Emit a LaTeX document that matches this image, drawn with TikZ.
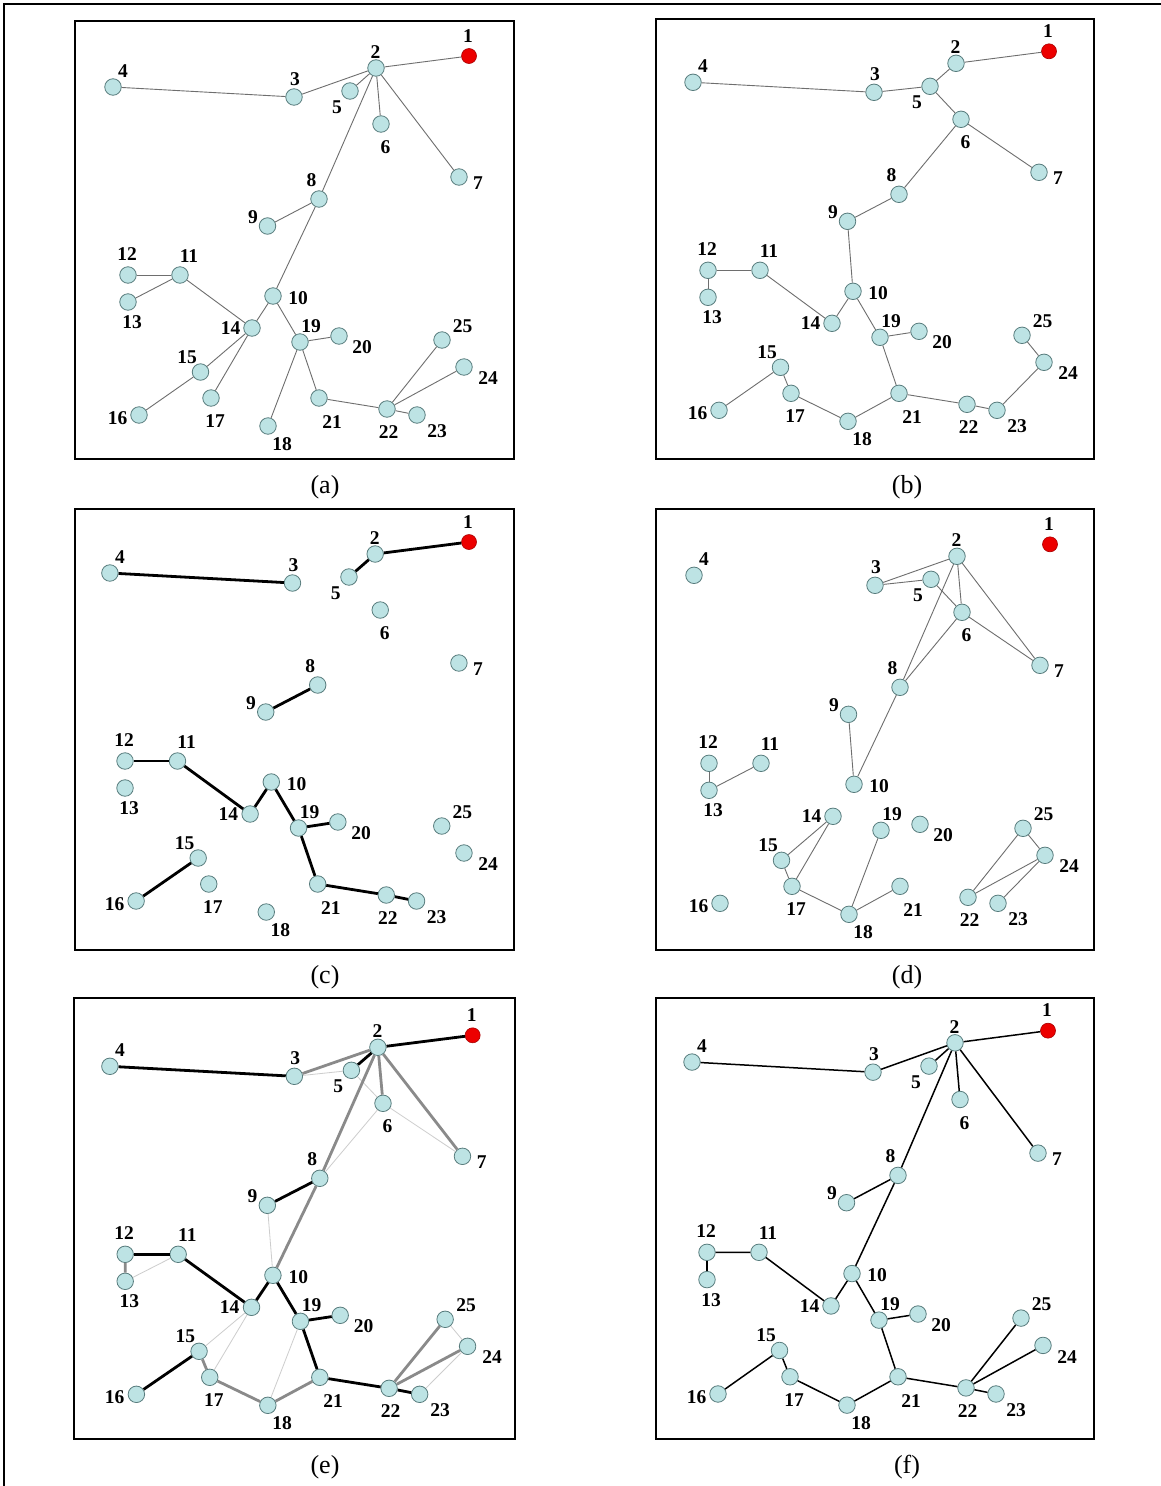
\documentclass[tikz,border=0pt]{standalone}
\usepackage{fontspec}
\setmainfont{Liberation Serif}
\definecolor{nodefill}{RGB}{189,227,228}
\definecolor{nodeline}{RGB}{88,124,125}
\definecolor{rootfill}{RGB}{236,0,0}
\definecolor{rootline}{RGB}{170,0,0}
\definecolor{greyedge}{RGB}{110,110,110}
\definecolor{midedge}{RGB}{138,138,138}
\definecolor{lightedge}{RGB}{205,205,205}
\tikzset{
  vnode/.style={circle, fill=nodefill, draw=nodeline, line width=0.8pt, minimum size=16.5pt, inner sep=0pt},
  rnode/.style={circle, fill=rootfill, draw=rootline, line width=0.6pt, minimum size=15pt, inner sep=0pt},
  vlabel/.style={font=\fontsize{19.5}{19.5}\selectfont\bfseries, inner sep=0pt},
  caption/.style={font=\fontsize{26}{26}\selectfont, inner sep=0pt},
  panelbox/.style={draw=black, line width=2pt},
  edgethin/.style={draw=greyedge, line width=0.9pt},
  edgebold/.style={draw=black, line width=2.8pt},
  edgemid/.style={draw=midedge, line width=2.8pt},
  edgelight/.style={draw=lightedge, line width=0.8pt},
  edgetree/.style={draw=black, line width=1.5pt},
}
\newcommand\drawgraph[1]{%
  \node[rnode] (#1-1) at (469,56) {};
  \node[vlabel] (#1-l1) at (468,36) {1};
  \foreach \i/\x/\y/\lx/\ly in {
    2/376/68/375.5/52, 3/294/97/295/79, 4/113/87/123/71, 5/350/91/337/107,
    6/381/124/385.5/147, 7/459/177/478/183, 8/319/199/311.5/180, 9/267.5/226/253/217,
    10/273/296/298/298, 11/180/275/189/256, 12/128/275/127/254, 13/128/302/132/322,
    14/252/328/230.5/328, 15/200.5/372/187/357, 16/139/415/117.6/418, 17/211/398/215/421,
    18/268/426/282/444, 19/300/342/311/326, 20/339/336/362/347, 21/319/398/332/422,
    22/387/409/388.5/432, 23/417/415/437/431, 24/464/367/488/378, 25/442/340/462.5/326}
  {
    \node[vnode] (#1-\i) at (\x,\y) {};
    \node[vlabel] (#1-l\i) at (\lx,\ly) {\i};
  }%
}
\begin{document}
\begin{tikzpicture}[x=1pt,y=-1pt]
\fill[white] (0,0) rectangle (1161,1486);
\useasboundingbox (0,0) rectangle (1161,1486);
% outer rules
\draw[line width=1.5pt] (4,1486) -- (4,4) -- (1161,4);
% panel frames
\draw[panelbox] (75,21) rectangle (514,459);
\draw[panelbox] (656,19) rectangle (1094,459);
\draw[panelbox] (75,509) rectangle (514,950);
\draw[panelbox] (656,509) rectangle (1094,950);
\draw[panelbox] (74,998) rectangle (515,1439);
\draw[panelbox] (656,998) rectangle (1094,1439);
% captions
\node[caption] (capa) at (325,487) {(a)};
\node[caption] (capb) at (907,487) {(b)};
\node[caption] (capc) at (325,977) {(c)};
\node[caption] (capd) at (907,977) {(d)};
\node[caption] (cape) at (325,1467) {(e)};
\node[caption] (capf) at (907,1467) {(f)};
% (a)
\begin{scope}
  \drawgraph{a}
  \foreach \u/\v in {1/2,2/3,3/4,2/5,2/6,2/7,2/8,8/9,8/10,10/14,10/19,11/12,11/13,11/14,14/15,14/17,15/16,19/18,19/20,19/21,21/22,22/23,22/24,22/25}
    \draw[edgethin] (a-\u) -- (a-\v);
\end{scope}
% (b)
\begin{scope}[shift={(580,-4.7)}]
  \drawgraph{b}
  \foreach \u/\v in {1/2,2/5,5/3,3/4,5/6,6/7,6/8,8/9,9/10,10/14,14/11,11/12,12/13,10/19,19/20,19/21,21/18,18/17,17/15,15/16,21/22,22/23,23/24,24/25}
    \draw[edgethin] (b-\u) -- (b-\v);
\end{scope}
% (c)
\begin{scope}[shift={(-4.08,486)}, xscale=1.0087]
  \drawgraph{c}
  \foreach \u/\v in {1/2,2/5,3/4,8/9,11/12,11/14,14/10,10/19,19/20,19/21,21/22,22/23,15/16}
    \draw[edgebold] (c-\u) -- (c-\v);
\end{scope}
% (d)
\begin{scope}[shift={(581,488.3)}]
  \drawgraph{d}
  \foreach \u/\v in {2/3,3/5,2/6,5/6,2/7,6/7,2/8,6/8,8/10,9/10,12/13,13/11,14/15,14/17,15/17,17/18,18/19,18/21,22/25,22/24,24/25,23/24}
    \draw[edgethin] (d-\u) -- (d-\v);
\end{scope}
% (e)
\begin{scope}[shift={(-5.25,979.3)}, xscale=1.019]
  \drawgraph{e}
  \foreach \u/\v in {3/5,5/6,6/8,6/7,9/10,11/13,14/15,14/17,18/19,24/25,23/24}
    \draw[edgelight] (e-\u) -- (e-\v);
  \foreach \u/\v in {2/3,2/6,2/7,2/8,8/10,12/13,15/17,17/18,18/21,22/25,22/24}
    \draw[edgemid] (e-\u) -- (e-\v);
  \foreach \u/\v in {1/2,3/4,2/5,8/9,11/12,11/14,14/10,10/19,19/20,19/21,21/22,22/23,15/16}
    \draw[edgebold] (e-\u) -- (e-\v);
\end{scope}
% (f)
\begin{scope}[shift={(579,974.0)}, yscale=1.012]
  \drawgraph{f}
  \foreach \u/\v in {1/2,2/3,3/4,2/5,2/6,2/7,2/8,8/9,8/10,10/14,14/11,11/12,12/13,10/19,19/20,19/21,21/18,18/17,17/15,15/16,21/22,22/23,22/24,22/25}
    \draw[edgetree] (f-\u) -- (f-\v);
\end{scope}
\end{tikzpicture}
\end{document}
